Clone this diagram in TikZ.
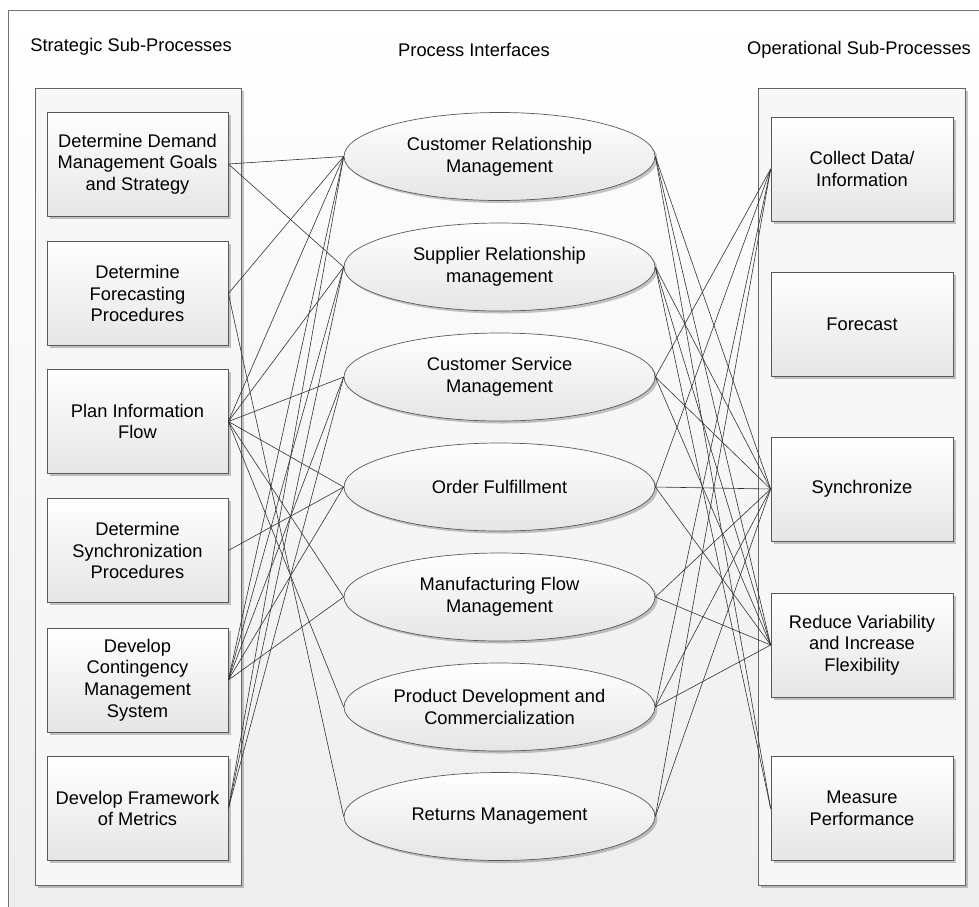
\documentclass[tikz,border=0pt]{standalone}
\usepackage{fontspec}
\setmainfont{Liberation Sans}
\usetikzlibrary{shapes.geometric,shadows}
\begin{document}
\begin{tikzpicture}[x=1pt,y=-1pt,
  every node/.style={font=\fontsize{18.3}{21.7}\selectfont, text=black},
  shad/.style={drop shadow={shadow xshift=2.5pt,shadow yshift=-2.5pt,opacity=0.22,fill=black}},
  cont/.style={draw=black!60, line width=0.7pt, fill=black!3, shad},
  sbox/.style={draw=black!65, line width=0.7pt, top color=white, bottom color=black!10,
    minimum width=181pt, minimum height=104pt, inner sep=0pt, align=center, shad},
  ell/.style={ellipse, draw=black!65, line width=0.7pt, top color=white, bottom color=black!10,
    minimum width=311pt, minimum height=88pt, inner sep=0pt, align=center, shad},
  hdr/.style={inner sep=0pt},
  link/.style={draw=black!80, line width=0.6pt}
]
\useasboundingbox (0,0) rectangle (979,906);
\clip (0,0) rectangle (979,906);
\fill[white] (0,0) rectangle (979,906);
\draw[draw=black!55, line width=0.7pt, top color=white, bottom color=black!7] (8,10) rectangle (995,925);

\node[hdr] (h1) at (131,47) {Strategic Sub-Processes};
\node[hdr] (h2) at (474,50) {Process Interfaces};
\node[hdr] (h3) at (859,50) {Operational Sub-Processes};

\draw[cont] (35,88) rectangle (241,885);
\draw[cont] (758,88) rectangle (965,885);

% left boxes
\node[sbox] (L1) at (137.5,164) {Determine Demand\\Management Goals\\and Strategy};
\node[sbox] (L2) at (137.5,293.5) {Determine\\Forecasting\\Procedures};
\node[sbox] (L3) at (137.5,421.5) {Plan Information\\Flow};
\node[sbox] (L4) at (137.5,550.5) {Determine\\Synchronization\\Procedures};
\node[sbox] (L5) at (137.5,680) {Develop\\Contingency\\Management\\System};
\node[sbox] (L6) at (137.5,808.5) {Develop Framework\\of Metrics};

% ellipses
\node[ell] (E1) at (499.5,156.5) {Customer Relationship\\Management};
\node[ell] (E2) at (499.5,267) {Supplier Relationship\\management};
\node[ell] (E3) at (499.5,377) {Customer Service\\Management};
\node[ell] (E4) at (499.5,487) {Order Fulfillment};
\node[ell] (E5) at (499.5,597) {Manufacturing Flow\\Management};
\node[ell] (E6) at (499.5,707) {Product Development and\\Commercialization};
\node[ell] (E7) at (499.5,816.5) {Returns Management};

% right boxes
\node[sbox, minimum width=182pt] (R1) at (862,169) {Collect Data/\\Information};
\node[sbox, minimum width=182pt] (R2) at (862,324.5) {Forecast};
\node[sbox, minimum width=182pt] (R3) at (862,489) {Synchronize};
\node[sbox, minimum width=182pt] (R4) at (862,645) {Reduce Variability\\and Increase\\Flexibility};
\node[sbox, minimum width=182pt] (R5) at (862,808.5) {Measure\\Performance};

% left connectors
\foreach \a/\b in {L1/E1,L1/E2, L2/E1,L2/E7,
  L3/E1,L3/E2,L3/E3,L3/E4,L3/E5,L3/E6, L4/E4,
  L5/E1,L5/E2,L5/E3,L5/E4,L5/E5, L6/E1,L6/E2,L6/E3}
  \draw[link] (\a.east) -- (\b.west);
% right connectors
\foreach \a/\b in {E1/R3,E1/R4,E1/R5, E2/R3,E2/R4,E2/R5,
  E3/R1,E3/R3,E3/R4, E4/R1,E4/R3,E4/R4, E5/R3,E5/R4,
  E6/R1,E6/R3,E6/R4, E7/R1,E7/R3}
  \draw[link] (\a.east) -- (\b.west);
\end{tikzpicture}
\end{document}
